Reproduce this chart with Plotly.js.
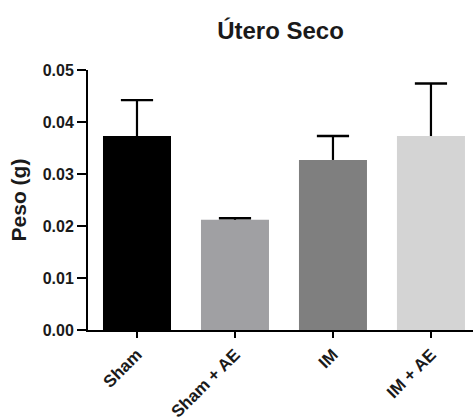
<!DOCTYPE html>
<html>
<head>
<meta charset="utf-8">
<script src="https://cdn.plot.ly/plotly-3.0.1.min.js"></script>
<style>html,body{margin:0;padding:0;background:#fff;}#chart{width:473px;height:420px;}</style>
</head>
<body>
<div id="chart"></div>
<script>
const categories = ["Sham", "Sham + AE", "IM", "IM + AE"];
const means = [0.0373, 0.0212, 0.0327, 0.0373];
const sem = [0.0069, 0.0003, 0.0046, 0.0101];
const barColors = ["#000000", "#a0a0a3", "#7f7f7f", "#d4d4d4"];
const yTicks = [0, 0.01, 0.02, 0.03, 0.04, 0.05];
const yTickLabels = ["0.00", "0.01", "0.02", "0.03", "0.04", "0.05"];

const font = "Liberation Sans, Arial, sans-serif";

const bars = {
  type: "bar",
  x: categories,
  y: means,
  width: 0.694,
  marker: {color: barColors, line: {width: 0}},
  error_y: {
    type: "data",
    symmetric: false,
    array: sem,
    arrayminus: sem.map(() => 0),
    color: "#000000",
    thickness: 2.2,
    width: 0
  },
  hoverinfo: "none"
};

// caps at the top of each (upper-only) error bar
const caps = {
  type: "scatter",
  mode: "markers",
  x: categories,
  y: means.map((m, i) => m + sem[i]),
  marker: {symbol: "line-ew", size: 23, color: "#000", line: {color: "#000", width: 2.4}},
  hoverinfo: "none",
  cliponaxis: false
};

const layout = {
  width: 473,
  height: 420,
  margin: {l: 88, r: 0, t: 70, b: 90, pad: 0},
  paper_bgcolor: "#ffffff",
  plot_bgcolor: "#ffffff",
  showlegend: false,
  title: {
    text: "<b>Útero Seco</b>",
    font: {family: font, size: 24, color: "#1a1a1a"},
    x: 0.5, xref: "paper", xanchor: "center",
    y: 1 - 31/420, yref: "container", yanchor: "middle"
  },
  xaxis: {
    type: "category",
    range: [-0.5, 3.429],
    showline: true, linecolor: "#000", linewidth: 2,
    ticks: "outside", ticklen: 6, tickwidth: 2, tickcolor: "#000",
    tickangle: -45,
    tickfont: {family: font, size: 17, color: "#1a1a1a", weight: "bold"},
    showgrid: false, zeroline: false, automargin: false
  },
  yaxis: {
    range: [0, 0.05],
    tickvals: yTicks,
    ticktext: yTickLabels,
    showline: true, linecolor: "#000", linewidth: 2,
    ticks: "outside", ticklen: 9, tickwidth: 2, tickcolor: "#000",
    tickfont: {family: font, size: 16, color: "#1a1a1a", weight: "bold"},
    showgrid: false, zeroline: false, automargin: false,
    title: {text: "<b>Peso (g)</b>", font: {family: font, size: 21, color: "#1a1a1a"}, standoff: 10}
  }
};

Plotly.newPlot("chart", [bars, caps], layout, {displayModeBar: false, staticPlot: true});
</script>
</body>
</html>
